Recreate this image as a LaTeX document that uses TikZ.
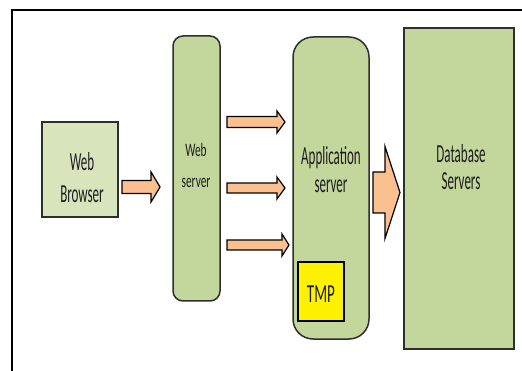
\documentclass[tikz,border=0pt]{standalone}
\usepackage{fontspec}
\setmainfont{Carlito}
\newfontfamily\fa[FakeStretch=0.5]{Carlito}
\newfontfamily\fb[FakeStretch=0.6]{Carlito}
\newfontfamily\fc[FakeStretch=0.58]{Carlito}
\definecolor{boxgreen}{HTML}{C3D69B}
\definecolor{lightgreen}{HTML}{D8E4BC}
\definecolor{arroworange}{HTML}{FAC090}
\definecolor{edgegray}{HTML}{2E2E2E}
\definecolor{txt}{HTML}{1E1E1E}
\begin{document}
\begin{tikzpicture}[x=1pt,y=-1pt,
  boxstyle/.style={draw=edgegray,line width=1.5pt,fill=boxgreen},
  arrowstyle/.style={draw=black,line width=1.2pt,fill=arroworange,line join=miter},
  bigtext/.style={anchor=base,inner sep=0pt,text=txt,font=\fa\fontsize{26}{30}\selectfont},
  smalltext/.style={anchor=base,inner sep=0pt,text=txt,font=\fb\fontsize{19}{23}\selectfont},
  tmptext/.style={anchor=base,inner sep=0pt,text=txt,font=\fc\fontsize{26}{30}\selectfont}]
\useasboundingbox (0,0) rectangle (522,371);
% frame
\draw[line width=1.6pt,black] (12,371) -- (12,10) -- (522,10);
% boxes
\draw[boxstyle,fill=lightgreen] (42,122) rectangle (118,217);
\node[inner sep=0pt] (browser) at (80,169.5) {};
\draw[boxstyle,rounded corners=10pt] (173,36) rectangle (220,301);
\node[inner sep=0pt] (webserver) at (196.5,168.5) {};
\draw[boxstyle,rounded corners=20pt] (293,37) rectangle (369,339);
\node[inner sep=0pt] (appserver) at (331,188) {};
\draw[boxstyle] (404,28) rectangle (514,349);
\node[inner sep=0pt] (db) at (459,188.5) {};
\draw[draw=black,line width=1.5pt,fill=yellow] (298,262) rectangle (344,321);
\node[inner sep=0pt] (tmp) at (321,291.5) {};
% texts
\node[bigtext] (bwA) at (82,171) {Web};
\node[bigtext] (bwB) at (82,203) {Browser};
\node[smalltext] (wsA) at (196,157) {Web};
\node[smalltext] (wsB) at (196,188) {server};
\node[bigtext] (asA) at (331,165) {Application};
\node[bigtext] (asB) at (331,193) {server};
\node[bigtext] (dbA) at (461,163) {Database};
\node[bigtext] (dbB) at (461,190) {Servers};
\node[tmptext] (tmpA) at (321,302) {TMP};
% block arrows
\newcommand{\blockarrow}[6]{% x1, xhead, xtip, yc, shaft half, head half
  \draw[arrowstyle] (#1,#4-#5) -- (#2,#4-#5) -- (#2,#4-#6) -- (#3,#4) -- (#2,#4+#6) -- (#2,#4+#5) -- (#1,#4+#5) -- cycle;}
\blockarrow{122}{151}{160}{187}{6.5}{15}
\blockarrow{227}{277}{285}{122}{5.5}{11}
\blockarrow{227}{277}{285}{188}{5}{11}
\blockarrow{227}{282}{289}{245}{5}{11}
\blockarrow{373}{385}{400}{192.5}{20.5}{46}
\end{tikzpicture}
\end{document}
